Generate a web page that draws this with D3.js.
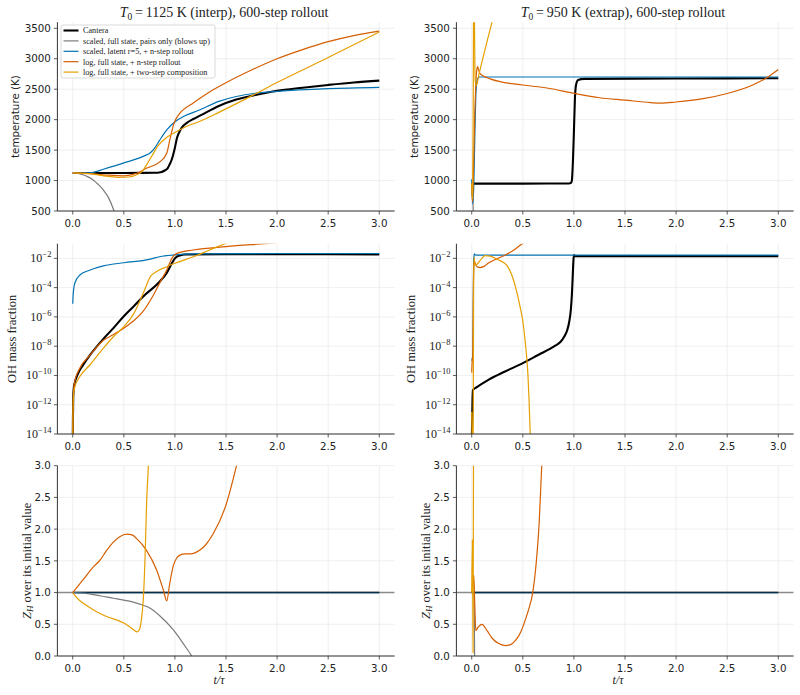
<!DOCTYPE html>
<html><head><meta charset="utf-8">
<script src="https://cdn.jsdelivr.net/npm/d3@7"></script>
<style>body{margin:0;background:#fff}</style>
</head><body>
<svg id="c" width="800" height="695"></svg>
<script>
// ---------------- data ----------------
const xTicks = [0, 0.5, 1, 1.5, 2, 2.5, 3];
const tempTicks = [500, 1000, 1500, 2000, 2500, 3000, 3500];
const ohTickExps = [-14, -12, -10, -8, -6, -4, -2];
const zhTicks = [0, 0.5, 1, 1.5, 2, 2.5, 3];

const seriesNames = ["Cantera", "scaled, full state, pairs only (blows up)", "scaled, latent r=5, + n-step rollout", "log, full state, + n-step rollout", "log, full state, + two-step composition"];
const seriesColors = ["#000000", "#7a7a7a", "#0072B2", "#D55E00", "#E69F00"];

const titles = ["1125 K (interp), 600-step rollout", "950 K (extrap), 600-step rollout"];

// Temperature, T0 = 1125 K
const tempInterpCantera = [[0,1125],[0.5,1125],[0.8,1127],[0.86,1137],[0.9,1165],[0.93,1205],[0.95,1270],[0.97,1350],[0.99,1470],[1.0,1540],[1.02,1700],[1.05,1820],[1.08,1895],[1.12,1950],[1.18,2010],[1.25,2070],[1.43,2225],[1.6,2330],[1.8,2410],[2.0,2475],[2.25,2525],[2.5,2570],[2.75,2610],[3.0,2640]];
const tempInterpPairs = [[0,1125],[0.05,1118],[0.1,1095],[0.15,1060],[0.2,1010],[0.25,935],[0.3,845],[0.35,720],[0.4,520],[0.45,250]];
const tempInterpLatent = [[0,1125],[0.1,1126],[0.2,1135],[0.3,1185],[0.5,1290],[0.7,1405],[0.76,1457],[0.8,1530],[0.85,1660],[0.92,1830],[1.0,1966],[1.08,2048],[1.24,2158],[1.43,2300],[1.6,2380],[1.8,2435],[2.0,2465],[2.5,2510],[3.0,2531]];
const tempInterpLogN = [[0,1125],[0.2,1108],[0.35,1088],[0.5,1078],[0.626,1119],[0.72,1201],[0.855,1310],[0.92,1447],[0.95,1666],[0.97,1810],[0.985,1905],[1.0,1975],[1.02,2040],[1.045,2100],[1.08,2160],[1.18,2275],[1.37,2487],[1.5,2607],[1.75,2815],[2.0,3000],[2.25,3150],[2.5,3280],[2.75,3380],[3.0,3455]];
const tempInterpLogTwo = [[0,1125],[0.2,1105],[0.35,1068],[0.45,1052],[0.55,1058],[0.62,1090],[0.68,1150],[0.72,1250],[0.78,1420],[0.83,1560],[0.92,1710],[1.0,1790],[1.1,1880],[1.24,1970],[1.43,2120],[1.75,2390],[2.0,2610],[2.5,3020],[3.0,3440]];

// Temperature, T0 = 950 K
const tempExtrapCantera = [[0,950],[0.5,950],[0.95,952],[0.97,958],[0.98,1000],[0.99,1300],[1.0,1800],[1.01,2350],[1.02,2560],[1.04,2650],[1.1,2670],[2.0,2675],[3.0,2680]];
const tempExtrapPairs = [[0,950],[0.01,700],[0.02,300]];
const tempExtrapLatent = [[0,1020],[0.005,800],[0.01,620],[0.02,900],[0.03,1700],[0.04,2400],[0.05,2620],[0.06,2680],[0.08,2700],[3.0,2700]];
const tempExtrapLogN = [[0,950],[0.006,650],[0.012,800],[0.02,1400],[0.03,2100],[0.04,2600],[0.05,2820],[0.058,2870],[0.065,2830],[0.08,2760],[0.114,2716],[0.18,2670],[0.277,2623],[0.5,2569],[0.75,2515],[1.0,2432],[1.25,2360],[1.5,2320],[1.75,2280],[1.85,2270],[2.0,2290],[2.25,2340],[2.5,2430],[2.75,2570],[2.87,2670],[3.0,2825]];
const tempExtrapLogTwo = [[0,950],[0.008,700],[0.014,2000],[0.018,3800],[0.022,4300],[0.026,3800],[0.03,3000],[0.035,2620],[0.045,2560],[0.07,2740],[0.1,2950],[0.15,3285],[0.2,3610],[0.25,3930]];

// OH mass fraction (log10 exponents), T0 = 1125 K
const ohInterpCantera = [[0,-15],[0.002,-13],[0.005,-11.5],[0.01,-10.9],[0.02,-10.5],[0.05,-9.9],[0.1,-9.3],[0.17,-8.6],[0.3,-7.5],[0.4,-6.75],[0.5,-5.95],[0.6,-5.25],[0.69,-4.6],[0.85,-3.6],[0.92,-3.0],[0.97,-2.34],[1.0,-2.0],[1.05,-1.8],[1.1,-1.74],[1.5,-1.72],[2.0,-1.72],[3.0,-1.73]];
const ohInterpLatent = [[0,-5.1],[0.005,-4.4],[0.02,-3.7],[0.07,-3.14],[0.17,-2.8],[0.3,-2.52],[0.5,-2.3],[0.75,-2.07],[0.85,-1.89],[1.0,-1.77],[1.2,-1.7],[2.0,-1.67],[3.0,-1.67]];
const ohInterpLogN = [[0,-15],[0.002,-13],[0.005,-11.5],[0.01,-10.9],[0.02,-10.4],[0.07,-9.5],[0.17,-8.6],[0.3,-7.6],[0.4,-7.2],[0.5,-6.77],[0.59,-6.3],[0.69,-5.6],[0.79,-4.5],[0.85,-3.7],[0.92,-2.8],[0.97,-2.0],[1.02,-1.66],[1.18,-1.43],[1.5,-1.2],[1.87,-1.0],[2.0,-0.93]];
const ohInterpLogTwo = [[0,-15],[0.002,-13],[0.005,-11.8],[0.01,-11.2],[0.02,-10.8],[0.07,-10.07],[0.17,-9.27],[0.3,-8.14],[0.4,-7.34],[0.5,-6.66],[0.59,-5.86],[0.69,-4.39],[0.76,-3.25],[0.82,-2.9],[0.92,-2.57],[1.0,-2.34],[1.18,-1.89],[1.34,-1.43],[1.49,-1.0],[1.55,-0.85]];

// OH mass fraction (log10 exponents), T0 = 950 K
const ohExtrapCantera = [[0,-15],[0.004,-13],[0.008,-11.6],[0.012,-11.0],[0.05,-10.8],[0.163,-10.3],[0.326,-9.73],[0.5,-9.16],[0.65,-8.6],[0.81,-8.0],[0.87,-7.7],[0.906,-7.34],[0.935,-6.9],[0.955,-6.3],[0.97,-5.5],[0.98,-4.5],[0.988,-3.3],[0.995,-2.2],[1.0,-1.78],[1.01,-1.85],[1.05,-1.85],[3.0,-1.85]];
const ohExtrapLatent = [[0,-9.0],[0.012,-8.5],[0.016,-4.0],[0.02,-2.0],[0.025,-1.7],[0.04,-1.78],[3.0,-1.78]];
const ohExtrapLogN = [[0,-9.8],[0.005,-9.0],[0.01,-8.7],[0.015,-5],[0.02,-2.5],[0.025,-2.2],[0.03,-2.25],[0.04,-2.45],[0.06,-2.6],[0.08,-2.63],[0.12,-2.55],[0.16,-2.34],[0.24,-2.05],[0.33,-1.77],[0.42,-1.4],[0.49,-1.02],[0.52,-0.9]];
const ohExtrapLogTwo = [[0,-12.5],[0.004,-14.5],[0.008,-16],[0.014,-14.5],[0.018,-5],[0.022,-1.9],[0.03,-2.4],[0.045,-2.45],[0.07,-2.25],[0.1,-2.0],[0.13,-1.82],[0.18,-1.85],[0.26,-2.1],[0.34,-2.45],[0.39,-3.1],[0.44,-4.27],[0.47,-5.2],[0.5,-6.3],[0.525,-7.8],[0.55,-9.95],[0.56,-11.5],[0.57,-13.5],[0.578,-15]];

// Z_H over its initial value, T0 = 1125 K
const zhInterpCantera = [[0,1],[3,1]];
const zhInterpPairs = [[0,1],[0.1,0.99],[0.267,0.95],[0.4,0.91],[0.5,0.88],[0.593,0.85],[0.69,0.8],[0.75,0.76],[0.854,0.63],[0.985,0.41],[1.08,0.2],[1.164,0],[1.2,-0.1]];
const zhInterpLatent = [[0,1],[3,1]];
const zhInterpLogN = [[0,1],[0.1,1.2],[0.2,1.4],[0.267,1.51],[0.33,1.66],[0.4,1.8],[0.46,1.88],[0.528,1.92],[0.58,1.91],[0.626,1.85],[0.72,1.67],[0.82,1.36],[0.887,1.04],[0.92,0.87],[0.95,1.15],[0.985,1.43],[1.02,1.55],[1.05,1.59],[1.1,1.61],[1.15,1.61],[1.245,1.67],[1.3,1.75],[1.376,1.93],[1.5,2.38],[1.6,2.98],[1.65,3.3]];
const zhInterpLogTwo = [[0,1],[0.05,0.9],[0.104,0.83],[0.18,0.75],[0.267,0.67],[0.35,0.61],[0.43,0.57],[0.5,0.52],[0.55,0.47],[0.6,0.41],[0.626,0.38],[0.65,0.41],[0.67,0.55],[0.69,0.88],[0.707,1.51],[0.724,2.46],[0.74,3.0],[0.75,3.5]];

// Z_H over its initial value, T0 = 950 K
const zhExtrapCantera = [[0,1],[3,1]];
const zhExtrapPairs = [[0,1],[0.01,0.99],[0.02,0.95],[0.026,0.5],[0.03,-0.5]];
const zhExtrapLatent = [[0,1],[3,1]];
const zhExtrapLogN = [[0,1],[0.01,1.1],[0.02,1.28],[0.03,0.8],[0.04,0.4],[0.06,0.45],[0.1,0.5],[0.15,0.4],[0.2,0.28],[0.26,0.2],[0.33,0.165],[0.38,0.18],[0.43,0.25],[0.48,0.38],[0.52,0.55],[0.56,0.75],[0.597,1.0],[0.63,1.45],[0.66,2.1],[0.685,3.0],[0.7,3.5]];
const zhExtrapLogTwo = [[0,1],[0.006,1.83],[0.01,1.0],[0.013,0.05],[0.018,3.5]];

// ---------------- layout ----------------
const svg = d3.select("#c");
const colX = [57.4, 456.4], colW = 337.2;
const rowY = [[22.2, 211], [243.7, 434], [465.7, 656]];
const sansFont = "DejaVu Sans, sans-serif";
const serifFont = "Liberation Serif, DejaVu Serif, serif";
const gridColor = "#ebebeb", spineColor = "#333333";

const panels = [
  {row:0, col:0, type:"lin", dom:[500,3600], ticks:tempTicks, series:[tempInterpCantera,tempInterpPairs,tempInterpLatent,tempInterpLogN,tempInterpLogTwo]},
  {row:0, col:1, type:"lin", dom:[500,3600], ticks:tempTicks, series:[tempExtrapCantera,tempExtrapPairs,tempExtrapLatent,tempExtrapLogN,tempExtrapLogTwo]},
  {row:1, col:0, type:"log", dom:[1e-14,1e-1], ticks:ohTickExps, series:[ohInterpCantera,null,ohInterpLatent,ohInterpLogN,ohInterpLogTwo]},
  {row:1, col:1, type:"log", dom:[1e-14,1e-1], ticks:ohTickExps, series:[ohExtrapCantera,null,ohExtrapLatent,ohExtrapLogN,ohExtrapLogTwo]},
  {row:2, col:0, type:"lin", dom:[0,3], ticks:zhTicks, hline:1, series:[zhInterpCantera,zhInterpPairs,zhInterpLatent,zhInterpLogN,zhInterpLogTwo]},
  {row:2, col:1, type:"lin", dom:[0,3], ticks:zhTicks, hline:1, series:[zhExtrapCantera,zhExtrapPairs,zhExtrapLatent,zhExtrapLogN,zhExtrapLogTwo]},
];

panels.forEach((p, i) => {
  const x0 = colX[p.col], x1 = x0 + colW;
  const [yTop, yBot] = rowY[p.row];
  const x = d3.scaleLinear().domain([-0.15, 3.15]).range([x0, x1]);
  const y = p.type === "log" ? d3.scaleLog().domain(p.dom).range([yBot, yTop])
                             : d3.scaleLinear().domain(p.dom).range([yBot, yTop]);
  const g = svg.append("g");
  const clipId = "clip" + i;
  svg.append("clipPath").attr("id", clipId).append("rect")
    .attr("x", x0).attr("y", yTop).attr("width", colW).attr("height", yBot - yTop);

  // grid
  g.selectAll(".gx").data(xTicks).enter().append("line")
    .attr("x1", d => x(d)).attr("x2", d => x(d)).attr("y1", yTop).attr("y2", yBot)
    .attr("stroke", gridColor).attr("stroke-width", 0.8);
  const yVals = p.type === "log" ? p.ticks.map(e => Math.pow(10, e)) : p.ticks;
  g.selectAll(".gy").data(yVals).enter().append("line")
    .attr("x1", x0).attr("x2", x1).attr("y1", d => y(d)).attr("y2", d => y(d))
    .attr("stroke", gridColor).attr("stroke-width", 0.8);

  const lg = g.append("g").attr("clip-path", `url(#${clipId})`);
  if (p.hline !== undefined) {
    lg.append("line").attr("x1", x0).attr("x2", x1).attr("y1", y(p.hline)).attr("y2", y(p.hline))
      .attr("stroke", "#8a8a8a").attr("stroke-width", 1.6);
  }
  const line = d3.line()
    .x(d => x(d[0]))
    .y(d => p.type === "log" ? y(Math.pow(10, d[1])) : y(d[1]))
    .curve(d3.curveMonotoneX);
  p.series.forEach((s, k) => {
    if (!s) return;
    const isZh = p.row === 2;
    lg.append("path").attr("d", line(s)).attr("fill", "none")
      .attr("stroke", seriesColors[k])
      .attr("stroke-width", k === 0 ? (isZh ? 1.6 : 2.1) : 1.2)
      .attr("stroke-opacity", (isZh && k === 2) ? 0.45 : 1)
      .attr("stroke-linejoin", "round");
  });

  // spines
  g.append("line").attr("x1", x0).attr("x2", x0).attr("y1", yTop).attr("y2", yBot)
    .attr("stroke", spineColor).attr("stroke-width", 1);
  g.append("line").attr("x1", x0).attr("x2", x1).attr("y1", yBot).attr("y2", yBot)
    .attr("stroke", spineColor).attr("stroke-width", 1);

  // x ticks
  xTicks.forEach(t => {
    g.append("line").attr("x1", x(t)).attr("x2", x(t)).attr("y1", yBot).attr("y2", yBot + 3.5)
      .attr("stroke", spineColor).attr("stroke-width", 0.8);
    g.append("text").attr("x", x(t)).attr("y", yBot + 16).attr("text-anchor", "middle")
      .attr("font-family", sansFont).attr("font-size", 10.3).attr("fill", "#222")
      .text(d3.format(".1f")(t));
  });
  // y ticks
  p.ticks.forEach((t, j) => {
    const v = yVals[j];
    const yy = y(v);
    g.append("line").attr("x1", x0 - 3.5).attr("x2", x0).attr("y1", yy).attr("y2", yy)
      .attr("stroke", spineColor).attr("stroke-width", 0.8);
    if (p.type === "log") {
      const tx = g.append("text").attr("x", x0 - 6).attr("y", yy + 4).attr("text-anchor", "end")
        .attr("font-family", serifFont).attr("font-size", 12).attr("fill", "#222");
      tx.append("tspan").text("10");
      tx.append("tspan").attr("dy", -5).attr("font-size", 8.5).text("\u2212" + Math.abs(t));
    } else {
      g.append("text").attr("x", x0 - 6.5).attr("y", yy + 3.7).attr("text-anchor", "end")
        .attr("font-family", sansFont).attr("font-size", 10.3).attr("fill", "#222")
        .text(p.row === 2 ? d3.format(".1f")(t) : t);
    }
  });

  // y label
  const cy = (yTop + yBot) / 2;
  const labX = [[15, 12, 27], [414, 411, 426]][p.col][p.row];
  const yl = g.append("text").attr("transform", `translate(${labX},${cy}) rotate(-90)`)
    .attr("text-anchor", "middle").attr("dominant-baseline", "central").attr("fill", "#222");
  if (p.row === 0) {
    yl.attr("font-family", sansFont).attr("font-size", 10.3).text("temperature (K)");
  } else if (p.row === 1) {
    yl.attr("font-family", serifFont).attr("font-size", 12.5).text("OH mass fraction");
  } else {
    yl.attr("font-family", serifFont).attr("font-size", 12.5);
    yl.append("tspan").attr("font-style", "italic").text("Z");
    yl.append("tspan").attr("font-style", "italic").attr("font-size", 9).attr("dy", 3).text("H");
    yl.append("tspan").attr("dy", -3).text(" over its initial value");
  }

  // title
  if (p.row === 0) {
    const tt = g.append("text").attr("x", (x0 + x1) / 2 - 2).attr("y", 16.5).attr("text-anchor", "middle")
      .attr("font-family", serifFont).attr("font-size", 14).attr("fill", "#222");
    tt.append("tspan").attr("font-style", "italic").text("T");
    tt.append("tspan").attr("font-size", 9.5).attr("dy", 3).text("0");
    tt.append("tspan").attr("dy", -3).text("\u2009=\u2009" + titles[p.col]);
  }
  // x label
  if (p.row === 2) {
    const xl = g.append("text").attr("x", (x0 + x1) / 2 - 7).attr("y", 684).attr("text-anchor", "middle")
      .attr("font-family", serifFont).attr("font-size", 12).attr("font-style", "italic").attr("fill", "#222");
    xl.text("t/\u03c4");
  }

  // legend
  if (i === 0) {
    const lgx = 61, lgy = 25;
    const leg = svg.append("g");
    leg.append("rect").attr("x", lgx).attr("y", lgy).attr("width", 154).attr("height", 53)
      .attr("rx", 2).attr("fill", "#fff").attr("fill-opacity", 0.85)
      .attr("stroke", "#d0d0d0").attr("stroke-width", 0.8);
    seriesNames.forEach((n, k) => {
      const yy = lgy + 5.5 + k * 10.4;
      leg.append("line").attr("x1", lgx + 2.5).attr("x2", lgx + 17.5).attr("y1", yy).attr("y2", yy)
        .attr("stroke", seriesColors[k]).attr("stroke-width", k === 0 ? 2.1 : 1.2);
      leg.append("text").attr("x", lgx + 22).attr("y", yy + 2.8)
        .attr("font-family", serifFont).attr("font-size", 8.2).attr("fill", "#222").text(n);
    });
  }
});
</script>
</body></html>
